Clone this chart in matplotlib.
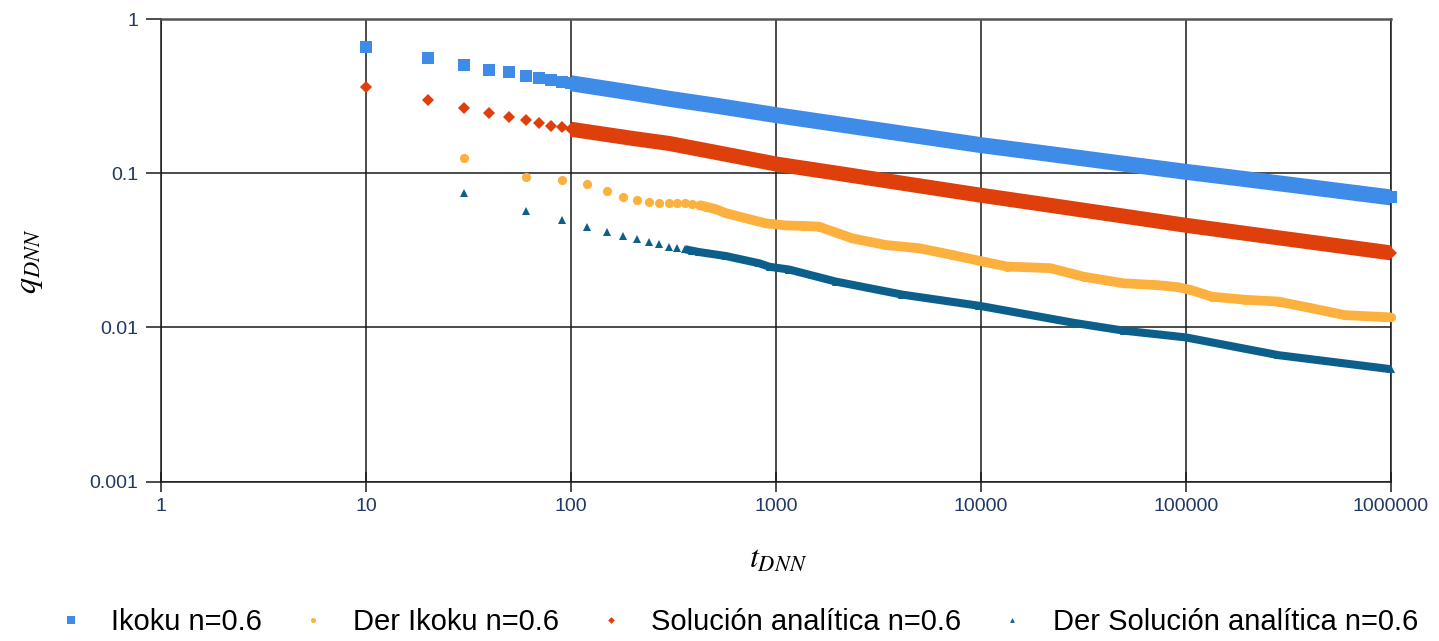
import matplotlib
matplotlib.use("Agg")
import matplotlib.pyplot as plt
from matplotlib.ticker import FixedLocator, FixedFormatter, NullLocator

plt.rcParams["font.family"] = ["Liberation Sans", "DejaVu Sans"]
plt.rcParams["mathtext.fontset"] = "stix"

# values (t_DNN, q_DNN)
t_ikoku = [10, 20, 30, 40, 50, 60, 70, 80, 90, 100, 200, 300, 500, 1000, 2000,
           5000, 10000, 20000, 50000, 100000, 200000, 500000, 1000000]
q_ikoku = [0.661, 0.556, 0.503, 0.467, 0.451, 0.429, 0.416, 0.402, 0.392, 0.383,
           0.332, 0.304, 0.275, 0.238, 0.208, 0.174, 0.152, 0.135, 0.115, 0.102,
           0.0911, 0.0782, 0.0696]

t_sol = [10, 20, 30, 40, 50, 60, 70, 80, 90, 100, 200, 300, 500, 1000, 2000,
         5000, 10000, 20000, 50000, 100000, 200000, 500000, 1000000]
q_sol = [0.364, 0.298, 0.264, 0.2445, 0.2305, 0.2214, 0.2107, 0.2024, 0.1985,
         0.1927, 0.168, 0.156, 0.137, 0.1147, 0.0998, 0.0828, 0.0719, 0.0629,
         0.0526, 0.0459, 0.0405, 0.0344, 0.0304]

t_der_ikoku = [30, 60, 90, 120, 150, 180, 210, 240, 270, 300, 330, 360, 390, 420,
               455, 510, 570, 710, 890, 1120, 1350, 1620, 2350, 3430, 4980, 7230,
               10500, 13400, 21800, 31700, 49600, 72100, 92000, 105000, 134000,
               194000, 282000, 410000, 596000, 1000000]
q_der_ikoku = [0.125, 0.0949, 0.0904, 0.0848, 0.0767, 0.0704, 0.0670, 0.0654,
               0.0644, 0.0644, 0.0638, 0.0638, 0.0629, 0.0622, 0.0606, 0.0583,
               0.0550, 0.0510, 0.0473, 0.0458, 0.0455, 0.0450, 0.0378, 0.0342,
               0.0326, 0.0295, 0.0265, 0.0248, 0.0242, 0.0213, 0.0193, 0.0188,
               0.0182, 0.0175, 0.0158, 0.0151, 0.0147, 0.0133, 0.0120, 0.0116]

t_der_sol = [30, 60, 90, 120, 150, 180, 210, 240, 270, 300, 330, 360, 390, 420,
             570, 830, 930, 1160, 1960, 4130, 9800, 28300, 49600, 100000, 282000,
             1000000]
q_der_sol = [0.0741, 0.0569, 0.0497, 0.0446, 0.0418, 0.0391, 0.0374, 0.0360,
             0.0346, 0.0334, 0.0327, 0.0321, 0.0314, 0.0308, 0.0290, 0.0260,
             0.0247, 0.0237, 0.0198, 0.0163, 0.0138, 0.0107, 0.00952, 0.0086,
             0.0066, 0.00535]

x_ticks = [1, 10, 100, 1000, 10000, 100000, 1000000]
x_tick_labels = ["1", "10", "100", "1000", "10000", "100000", "1000000"]
y_ticks = [0.001, 0.01, 0.1, 1]
y_tick_labels = ["0.001", "0.01", "0.1", "1"]

# label, t, q, marker, size, color, t where markers merge into a band, band width
series = [
    ("Ikoku n=0.6", t_ikoku, q_ikoku, "s", 9.3, "#3F8BE8", 100, 11.5),
    ("Der Ikoku n=0.6", t_der_ikoku, q_der_ikoku, "o", 6.6, "#FCB13E", 420, 7.0),
    ("Solución analítica n=0.6", t_sol, q_sol, "D", 6.2, "#DE3F0B", 100, 10.8),
    ("Der Solución analítica n=0.6", t_der_sol, q_der_sol, "^", 6.2, "#0C5E8B", 360, 5.8),
]

fig = plt.figure(figsize=(14.39, 6.41), dpi=100)
ax = fig.add_axes([161 / 1439, 1 - 481.5 / 641, 1230 / 1439, 462.5 / 641])

handles = []
for label, t, q, mk, ms, col, t_band, lw in series:
    tb = [a for a in t if a >= t_band]
    qb = [b for a, b in zip(t, q) if a >= t_band]
    ax.plot(tb, qb, "-", color=col, lw=lw, solid_capstyle="butt",
            solid_joinstyle="round", zorder=3)
    h, = ax.plot(t, q, linestyle="none", marker=mk, ms=ms, color=col,
                 markeredgewidth=0, label=label, zorder=3, clip_on=False)
    handles.append(h)

ax.set_xscale("log")
ax.set_yscale("log")
ax.set_xlim(1, 1000000)
ax.set_ylim(0.001, 1)

ax.xaxis.set_major_locator(FixedLocator(x_ticks))
ax.xaxis.set_major_formatter(FixedFormatter(x_tick_labels))
ax.xaxis.set_minor_locator(NullLocator())
ax.yaxis.set_major_locator(FixedLocator(y_ticks))
ax.yaxis.set_major_formatter(FixedFormatter(y_tick_labels))
ax.yaxis.set_minor_locator(NullLocator())

ax.set_axisbelow(True)
ax.grid(True, which="major", color="#1a1a1a", lw=1.1)
for s in ["left", "bottom", "right"]:
    ax.spines[s].set_color("#1a1a1a")
    ax.spines[s].set_linewidth(1.1)
ax.spines["top"].set_color("#555555")
ax.spines["top"].set_linewidth(1.8)

ax.tick_params(axis="x", direction="inout", length=14, width=1.1,
               color="#1a1a1a", pad=5, labelsize=14, labelcolor="#203864")
ax.tick_params(axis="y", direction="out", length=11, width=1.1,
               color="#1a1a1a", pad=5.5, labelsize=14, labelcolor="#203864")

fig.text(778 / 1439, 1 - 560 / 641, r"$t_{DNN}$", fontsize=23,
         ha="center", va="center")
fig.text(30 / 1439, 1 - 261 / 641, r"$q_{DNN}$", fontsize=23, rotation=90,
         ha="center", va="center")

fig.legend(handles=handles, loc="center", bbox_to_anchor=(737 / 1439, 1 - 622 / 641),
           ncol=4, frameon=False, fontsize=21, markerscale=0.55,
           handlelength=1.0, handletextpad=0.88, columnspacing=1.26,
           borderpad=0, borderaxespad=0)

fig.savefig("out.png", dpi=100)
